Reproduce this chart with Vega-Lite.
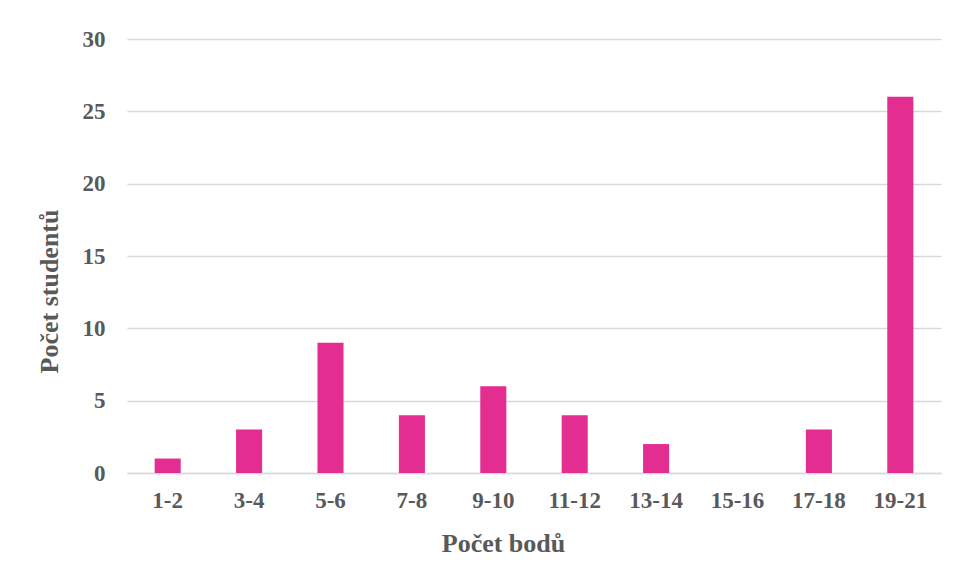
{
  "$schema": "https://vega.github.io/schema/vega-lite/v6.json",
  "autosize": "none",
  "width": 814,
  "height": 434,
  "padding": {"left": 127, "top": 39, "right": 15, "bottom": 105},
  "background": "white",
  "data": {
    "values": [
      {"body": "1-2", "pocet": 1},
      {"body": "3-4", "pocet": 3},
      {"body": "5-6", "pocet": 9},
      {"body": "7-8", "pocet": 4},
      {"body": "9-10", "pocet": 6},
      {"body": "11-12", "pocet": 4},
      {"body": "13-14", "pocet": 2},
      {"body": "15-16", "pocet": 0},
      {"body": "17-18", "pocet": 3},
      {"body": "19-21", "pocet": 26}
    ]
  },
  "mark": {"type": "bar", "color": "#E32D91"},
  "encoding": {
    "x": {
      "field": "body",
      "type": "ordinal",
      "sort": null,
      "scale": {"paddingInner": 0.68, "paddingOuter": 0.34},
      "axis": {
        "title": "Počet bodů",
        "labelAngle": 0,
        "ticks": false,
        "domainColor": "#d9d9d9",
        "domainWidth": 1.5,
        "labelPadding": 16,
        "titlePadding": 18,
        "titleX": 376
      }
    },
    "y": {
      "field": "pocet",
      "type": "quantitative",
      "scale": {"domain": [0, 30]},
      "axis": {
        "title": "Počet studentů",
        "values": [0, 5, 10, 15, 20, 25, 30],
        "domain": false,
        "ticks": false,
        "gridColor": "#d9d9d9",
        "gridWidth": 1.5,
        "labelPadding": 22,
        "titlePadding": 20,
        "titleY": 252
      }
    }
  },
  "config": {
    "view": {"stroke": null},
    "axis": {
      "labelFont": "Liberation Serif",
      "labelFontWeight": "bold",
      "labelFontSize": 23,
      "labelColor": "#595959",
      "titleFont": "Liberation Serif",
      "titleFontWeight": "bold",
      "titleFontSize": 26,
      "titleColor": "#595959"
    }
  }
}
